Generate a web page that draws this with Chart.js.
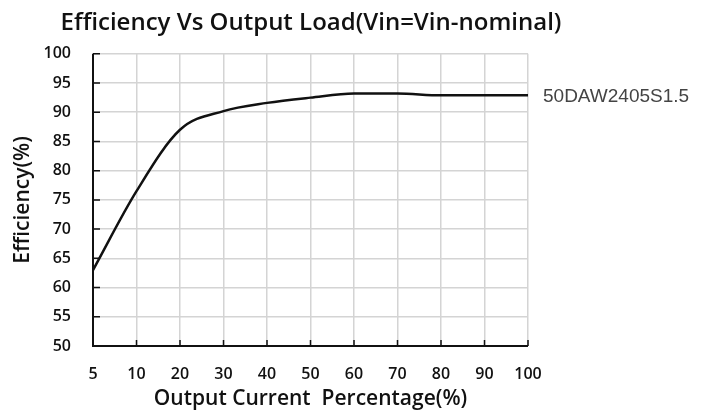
<!DOCTYPE html>
<html>
<head>
<meta charset="utf-8">
<script src="https://cdn.jsdelivr.net/npm/chart.js@4/dist/chart.umd.min.js"></script>
<style>
  body { margin: 0; background: #fff; }
  #wrap { width: 704px; height: 414px; }
</style>
</head>
<body>
<div id="wrap"><canvas id="effChart" width="704" height="414"></canvas></div>
<script>
// Chart data
const loadLabels = ['5', '10', '20', '30', '40', '50', '60', '70', '80', '90', '100'];
const efficiency = [63, 76.5, 87, 90.2, 91.6, 92.5, 93.2, 93.2, 92.9, 92.9, 92.9];
const yTicks = [50, 55, 60, 65, 70, 75, 80, 85, 90, 95, 100];
const seriesName = '50DAW2405S1.5';

const tickFont = { family: 'Open Sans', size: 16, weight: '600' };
const titleFont = { family: 'Open Sans', size: 21, weight: '600' };

// inward tick marks on left and bottom axes
const innerTicks = {
    id: 'innerTicks',
    afterDatasetsDraw(chart) {
        const { ctx, chartArea, scales } = chart;
        ctx.save();
        ctx.strokeStyle = '#111';
        ctx.lineWidth = 1.5;
        ctx.beginPath();
        scales.y.ticks.forEach((t, i) => {
            const y = scales.y.getPixelForTick(i);
            ctx.moveTo(chartArea.left, y);
            ctx.lineTo(chartArea.left + 7, y);
        });
        scales.x.ticks.forEach((t, i) => {
            const x = scales.x.getPixelForTick(i);
            ctx.moveTo(x, chartArea.bottom);
            ctx.lineTo(x, chartArea.bottom - 6);
        });
        ctx.stroke();
        // black left and bottom axis lines
        ctx.lineWidth = 2;
        ctx.beginPath();
        ctx.moveTo(chartArea.left, chartArea.top);
        ctx.lineTo(chartArea.left, chartArea.bottom);
        ctx.lineTo(chartArea.right, chartArea.bottom);
        ctx.stroke();
        ctx.restore();
    }
};

// series name at the end of the line
const endLabel = {
    id: 'endLabel',
    afterDatasetsDraw(chart) {
        const meta = chart.getDatasetMeta(0);
        const last = meta.data[meta.data.length - 1];
        const ctx = chart.ctx;
        ctx.save();
        ctx.font = '19px "Liberation Sans"';
        ctx.fillStyle = '#444';
        ctx.textBaseline = 'middle';
        ctx.fillText(chart.data.datasets[0].label, last.x + 15, last.y + 1);
        ctx.restore();
    }
};

new Chart(document.getElementById('effChart'), {
    type: 'line',
    data: {
        labels: loadLabels,
        datasets: [{
            label: seriesName,
            data: efficiency,
            borderColor: '#111',
            borderWidth: 2.5,
            pointRadius: 0,
            fill: false,
            cubicInterpolationMode: 'monotone'
        }]
    },
    options: {
        responsive: false,
        animation: false,
        layout: { padding: { left: 0, right: 82, top: 0, bottom: 2 } },
        plugins: {
            legend: { display: false },
            tooltip: { enabled: false },
            title: {
                display: true,
                text: 'Efficiency Vs Output Load(Vin=Vin-nominal)',
                color: '#111',
                font: { family: 'Open Sans', size: 24, weight: '600' },
                padding: { top: 9, bottom: 16 }
            }
        },
        scales: {
            x: {
                type: 'category',
                offset: false,
                afterFit(scale) { scale.height = 66; },
                grid: { color: '#d4d4d4', lineWidth: 1.5, drawTicks: false },
                border: { display: false },
                ticks: { color: '#111', font: tickFont, padding: 19, maxRotation: 0, autoSkip: false },
                title: {
                    display: true,
                    text: 'Output Current  Percentage(%)',
                    color: '#111',
                    font: titleFont,
                    padding: { top: 4, bottom: 0 }
                }
            },
            y: {
                min: 50,
                max: 100,
                afterBuildTicks(scale) {
                    scale.ticks = yTicks.map(v => ({ value: v }));
                },
                afterFit(scale) { scale.width = 93; },
                grid: { color: '#d4d4d4', lineWidth: 1.5, drawTicks: false },
                border: { display: false },
                ticks: { color: '#111', font: tickFont, padding: 22 },
                title: {
                    display: true,
                    text: 'Efficiency(%)',
                    color: '#111',
                    font: titleFont,
                    padding: { top: 10, bottom: 0 }
                }
            },
            // empty right-hand space for the series label
            yRight: {
                type: 'linear',
                position: 'right',
                afterFit(scale) { scale.width = 94; },
                grid: { display: false },
                border: { display: false },
                ticks: { display: false }
            }
        }
    },
    plugins: [innerTicks, endLabel]
});
</script>
</body>
</html>
